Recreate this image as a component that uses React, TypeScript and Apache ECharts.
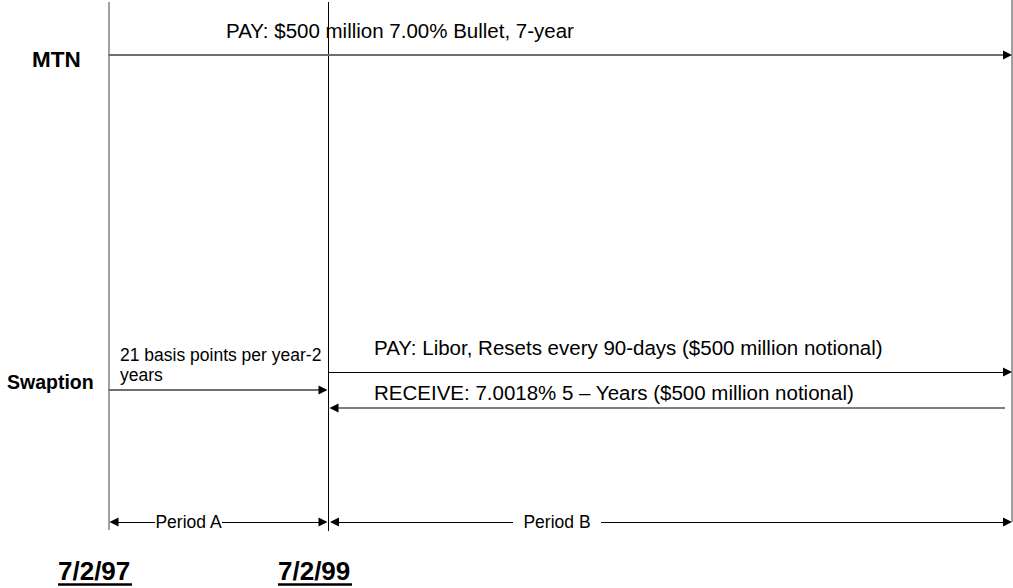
import React, { useEffect, useRef } from "react";
import * as echarts from "echarts";

// ---- Diagram content ----
const rowLabels = ["MTN", "Swaption"];
const mtnFlow = "PAY: $500 million 7.00% Bullet, 7-year";
const swaptionPremium = ["21 basis points per year-2", "years"];
const swapFlows = [
  "PAY: Libor, Resets every 90-days ($500 million notional)",
  "RECEIVE: 7.0018% 5 \u2013 Years ($500 million notional)",
];
const periodLabels = ["Period A", "Period B"];
const dateLabels = ["7/2/97", "7/2/99"];

const FONT = "'Liberation Sans', Arial, Helvetica, sans-serif";
const GRAY = "#6f6f6f";

type Seg = { coords: number[][]; lineStyle: any };

function seg(x1: number, y1: number, x2: number, y2: number, color: string, width: number): Seg {
  return { coords: [[x1, y1], [x2, y2]], lineStyle: { color, width, opacity: 1 } };
}

// arrowhead with tip at (x, y) pointing in direction dir (+1 right, -1 left)
const HEAD = 9;
function head(x: number, y: number, dir: number): Seg {
  const end = x - (dir * HEAD) / 2;
  return seg(end - dir * 1, y, end, y, "#000", 0.5);
}

export default function App() {
  const ref = useRef<HTMLDivElement>(null);

  useEffect(() => {
    if (!ref.current) return;
    const chart = echarts.init(ref.current, undefined, { renderer: "svg" });

    const xL = 108.5; // start
    const xM = 328.5; // swaption expiry
    const xR = 1012; // maturity
    const yMTN = 55;
    const ySw = 390;
    const yPay = 372;
    const yRec = 408;
    const yPer = 522;
    const yUnder = 584;

    const plain: Seg[] = [
      // timeline verticals
      seg(xL, 2, xL, 530, "#808080", 1.5),
      seg(xM, 2, xM, 531, "#000", 1),
      seg(xR, 0, xR, yPer, "#808080", 1.5),
      // MTN
      seg(xL, yMTN, xR - 6, yMTN, GRAY, 2),
      // Swaption premium
      seg(xL, ySw, xM - 5, ySw, GRAY, 2),
      // swap pay / receive
      seg(xM, yPay, xR - 6, yPay, "#000", 1),
      seg(1005, yRec, xM + 6, yRec, "#555", 1.5),
      // period A
      seg(xL + 5, yPer, 155, yPer, "#000", 1),
      seg(222, yPer, xM - 5, yPer, "#000", 1),
      // period B
      seg(xM + 6, yPer, 513, yPer, "#000", 1),
      seg(601, yPer, xR - 6, yPer, "#000", 1),
      // date underlines
      seg(58, yUnder, 132, yUnder, "#000", 2.5),
      seg(278, yUnder, 352, yUnder, "#000", 2.5),
    ];

    const heads: Seg[] = [
      head(xR, yMTN, 1),
      head(xM - 1, ySw, 1),
      head(xR, yPay, 1),
      head(xM + 1, yRec, -1),
      head(xL + 1, yPer, -1),
      head(xM - 1, yPer, 1),
      head(xM + 1.5, yPer, -1),
      head(xR, yPer, 1),
    ];

    const txt = (
      text: string,
      x: number,
      y: number,
      size: number,
      bold = false,
      align: string = "left"
    ) => ({
      type: "text",
      x,
      y,
      silent: true,
      style: {
        text,
        fill: "#000",
        fontSize: size,
        fontWeight: bold ? "bold" : "normal",
        fontFamily: FONT,
        textAlign: align,
        textVerticalAlign: "middle",
      },
    });

    chart.setOption({
      animation: false,
      backgroundColor: "#ffffff",
      grid: { left: 0, right: 0, top: 0, bottom: 0, containLabel: false },
      xAxis: { type: "value", min: 0, max: 1013, show: false },
      yAxis: { type: "value", min: 0, max: 588, inverse: true, show: false },
      series: [
        {
          type: "lines",
          coordinateSystem: "cartesian2d",
          silent: true,
          symbol: ["none", "none"],
          data: plain,
        },
        {
          type: "lines",
          coordinateSystem: "cartesian2d",
          silent: true,
          symbol: ["none", "triangle"],
          symbolSize: HEAD,
          data: heads,
        },
      ],
      graphic: [
        txt(mtnFlow, 226, 30, 20.5),
        txt(rowLabels[0], 32, 59, 22.5, true),
        txt(rowLabels[1], 7, 382, 19.5, true),
        txt(swaptionPremium[0], 120, 355, 17.5),
        txt(swaptionPremium[1], 120, 375, 17.5),
        txt(swapFlows[0], 374, 347, 20.5),
        txt(swapFlows[1], 374, 392, 20.5),
        txt(periodLabels[0], 188.5, yPer, 17.5, false, "center"),
        txt(periodLabels[1], 557, yPer, 17.5, false, "center"),
        txt(dateLabels[0], 58, 571, 26, true),
        txt(dateLabels[1], 278, 571, 26, true),
      ],
    });

    return () => chart.dispose();
  }, []);

  return (
    <div
      ref={ref}
      style={{ position: "fixed", left: 0, top: 0, width: 1013, height: 588 }}
    />
  );
}
